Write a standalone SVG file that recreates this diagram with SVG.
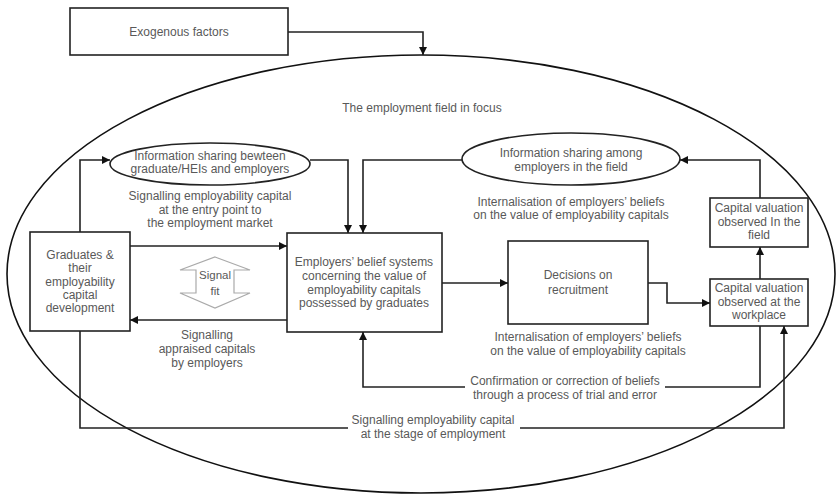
<svg xmlns="http://www.w3.org/2000/svg" width="837" height="495" viewBox="0 0 837 495">
<defs>
<marker id="ah" viewBox="0 0 10 10" refX="10" refY="5" markerWidth="8" markerHeight="8" markerUnits="userSpaceOnUse" orient="auto">
<path d="M0,0 L10,5 L0,10 z" fill="#111"/>
</marker>
<style>
.box{fill:#fff;stroke:#222;stroke-width:1.6}
.ln{fill:none;stroke:#222;stroke-width:1.6}
.ar{fill:none;stroke:#222;stroke-width:1.6;marker-end:url(#ah)}
text{font-family:"Liberation Sans",Arial,sans-serif;font-size:12px;fill:#595959;text-anchor:middle}
</style>
</defs>
<rect width="837" height="495" fill="#fff"/>
<g id="field">
<ellipse cx="421" cy="274" rx="414" ry="219" fill="none" stroke="#111" stroke-width="1.6"/>
<text x="422" y="112">The employment field in focus</text>
</g>
<g id="exogenous">
<rect class="box" x="70" y="8" width="218" height="47"/>
<text x="179" y="36">Exogenous factors</text>
</g>
<g id="info1">
<ellipse class="box" cx="210" cy="164" rx="100" ry="21"/>
<text x="210" y="160">Information sharing bewteen</text>
<text x="210" y="173">graduate/HEIs and employers</text>
</g>
<g id="info2">
<ellipse class="box" cx="571" cy="159" rx="109" ry="26"/>
<text x="571" y="157">Information sharing among</text>
<text x="571" y="171">employers in the field</text>
</g>
<g id="graduates">
<rect class="box" x="30" y="232" width="100" height="99"/>
<text x="80" y="259">Graduates &amp;</text>
<text x="80" y="272">their</text>
<text x="80" y="286">employability</text>
<text x="80" y="299">capital</text>
<text x="80" y="312">development</text>
</g>
<g id="employers">
<rect class="box" x="287" y="233" width="155" height="99"/>
<text x="364" y="266">Employers’ belief systems</text>
<text x="364" y="280">concerning the value of</text>
<text x="364" y="294">employability capitals</text>
<text x="364" y="307">possessed by graduates</text>
</g>
<g id="decisions">
<rect class="box" x="508" y="241" width="140" height="83"/>
<text x="578" y="279">Decisions on</text>
<text x="578" y="294">recruitment</text>
</g>
<g id="field-valuation">
<rect class="box" x="710" y="198" width="98" height="49"/>
<text x="759" y="212">Capital valuation</text>
<text x="759" y="226">observed In the</text>
<text x="759" y="239">field</text>
</g>
<g id="workplace-valuation">
<rect class="box" x="710" y="279" width="98" height="47"/>
<text x="759" y="292">Capital valuation</text>
<text x="759" y="306">observed at the</text>
<text x="759" y="319">workplace</text>
</g>
<g id="signal-fit">
<path d="M215,257 L250,270 L234,270 L234,293 L250,293 L215,308 L180,293 L196,293 L196,270 L180,270 Z" fill="#fff" stroke="#aaa" stroke-width="1.2"/>
<text x="215" y="279" style="font-size:11.5px">Signal</text>
<text x="215" y="295" style="font-size:11.5px">fit</text>
</g>
<g id="connectors">
<path class="ar" d="M288,32 H423 V55"/>
<path class="ar" d="M80,232 V160 H110"/>
<path class="ar" d="M310,160 H348 V233"/>
<path class="ar" d="M462,160 H363 V233"/>
<path class="ar" d="M130,246 H287"/>
<path class="ar" d="M287,320 H130"/>
<path class="ar" d="M442,283 H508"/>
<path class="ar" d="M648,283 H667 V303 H710"/>
<path class="ar" d="M760,279 V247"/>
<path class="ar" d="M760,198 V160 H680"/>
<path class="ln" d="M760,326 V387 H665"/>
<path class="ar" d="M465,387 H363 V332"/>
<path class="ln" d="M80,331 V428 H348"/>
<path class="ar" d="M520,428 H784 V326"/>
</g>
<g id="labels">
<text x="210" y="200">Signalling employability capital</text>
<text x="210" y="214">at the entry point to</text>
<text x="210" y="227">the employment market</text>
<text x="571" y="206">Internalisation of employers’ beliefs</text>
<text x="571" y="219">on the value of employability capitals</text>
<text x="207" y="339">Signalling</text>
<text x="207" y="353">appraised  capitals</text>
<text x="207" y="367">by employers</text>
<text x="588" y="341">Internalisation of employers’ beliefs</text>
<text x="588" y="355">on the value of employability capitals</text>
<text x="565" y="385">Confirmation or correction of beliefs</text>
<text x="565" y="399">through a process of trial and error</text>
<text x="433" y="424">Signalling employability capital</text>
<text x="433" y="438">at the stage of employment</text>
</g>
</svg>
